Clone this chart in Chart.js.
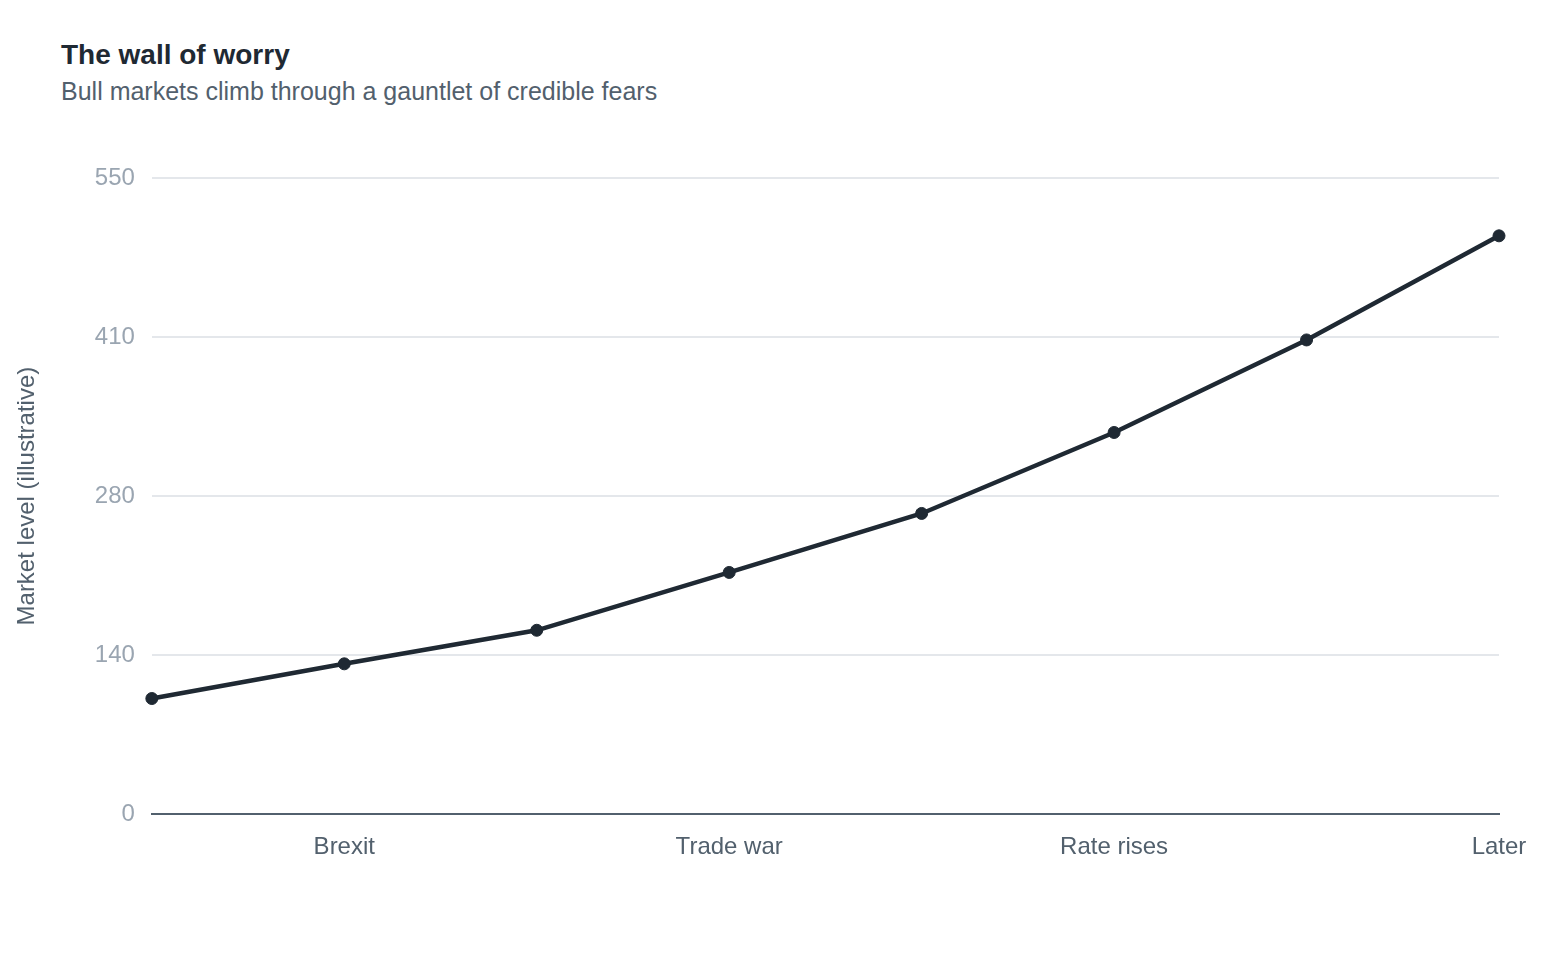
<!DOCTYPE html>
<html lang="en">
<head>
  <meta charset="UTF-8">
  <title>The wall of worry</title>
  <script src="https://cdn.jsdelivr.net/npm/chart.js"></script>
  <style>
    html, body { margin: 0; padding: 0; background: #ffffff; }
    body { width: 1560px; height: 953px; position: relative; font-family: "Liberation Sans", Arial, sans-serif; }
    #head { position: absolute; left: 61px; top: 37px; }
    #head h1 { margin: 0; font-size: 28px; font-weight: bold; color: #1f2933; line-height: 36px; }
    #head p { margin: 2px 0 0 0; font-size: 25px; color: #52606d; line-height: 32px; }
    #wrap { position: absolute; left: 0; top: 140px; width: 1560px; height: 780px; }
  </style>
</head>
<body>
  <div id="head">
    <h1>The wall of worry</h1>
    <p>Bull markets climb through a gauntlet of credible fears</p>
  </div>
  <div id="wrap"><canvas id="wallChart"></canvas></div>

  <script>
    // données
    const categories = ['', 'Brexit', '', 'Trade war', '', 'Rate rises', '', 'Later'];
    const marketLevel = [100, 130, 159, 209, 260, 330, 410, 500];
    const yTicks = [0, 137.5, 275, 412.5, 550];

    const ctx = document.getElementById('wallChart').getContext('2d');
    const wallChart = new Chart(ctx, {
      type: 'line',
      data: {
        labels: categories,
        datasets: [{
          label: 'Market level',
          data: marketLevel,
          borderColor: '#1f2933',
          backgroundColor: '#1f2933',
          borderWidth: 4.5,
          pointRadius: 6,
          pointBorderWidth: 1,
          pointHoverRadius: 6,
          tension: 0,
          fill: false
        }]
      },
      options: {
        responsive: true,
        maintainAspectRatio: false,
        animation: false,
        layout: { padding: { left: 13, right: 61, top: 38, bottom: 39 } },
        plugins: {
          legend: { display: false },
          tooltip: { enabled: false }
        },
        scales: {
          x: {
            offset: false,
            grid: { display: false, drawTicks: false },
            border: { display: true, color: '#52606d', width: 2 },
            ticks: {
              autoSkip: false,
              maxRotation: 0,
              padding: 19,
              color: '#52606d',
              font: { family: 'Liberation Sans', size: 24 }
            }
          },
          y: {
            min: 0,
            max: 550,
            afterBuildTicks: (axis) => { axis.ticks = yTicks.map(v => ({ value: v })); },
            grid: { color: '#e4e7eb', lineWidth: 2, drawTicks: false },
            border: { display: false },
            ticks: {
              padding: 17,
              color: '#9aa5b1',
              font: { family: 'Liberation Sans', size: 24 },
              callback: (v) => Math.round(v / 10) * 10
            },
            title: {
              display: true,
              text: 'Market level (illustrative)',
              color: '#52606d',
              font: { family: 'Liberation Sans', size: 24 },
              padding: { top: 0, bottom: 36 }
            }
          }
        }
      }
    });
  </script>
</body>
</html>
